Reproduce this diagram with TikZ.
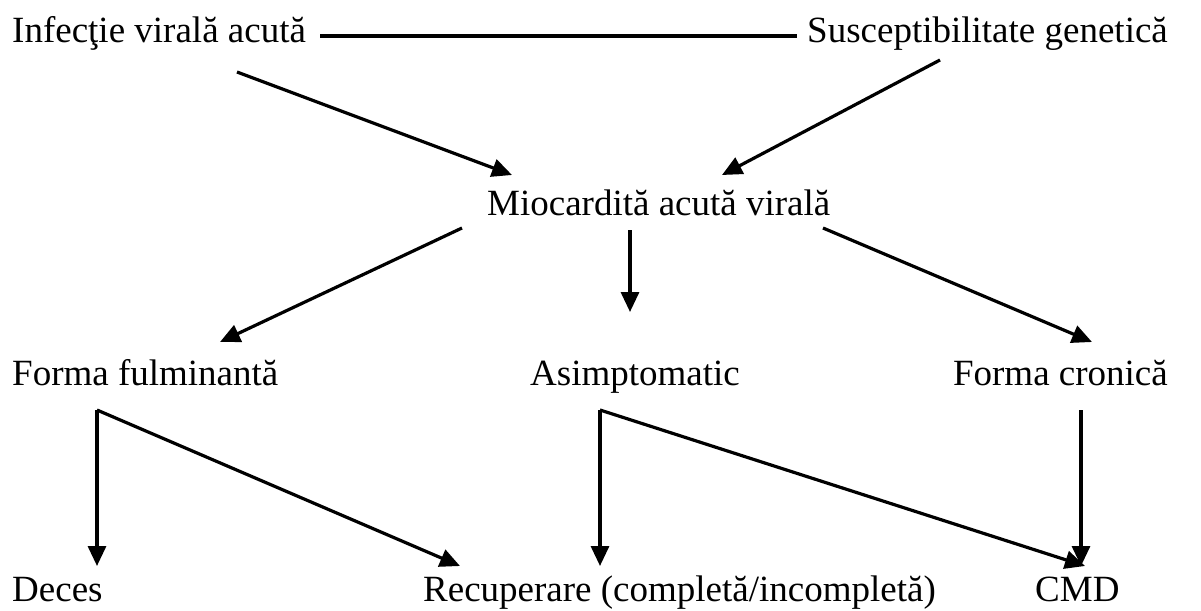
\documentclass[tikz,border=0pt]{standalone}
\usepackage{fontspec}
\setmainfont{Liberation Serif}
\usetikzlibrary{arrows.meta}
\begin{document}
\begin{tikzpicture}[x=1pt,y=-1pt,
  lbl/.style={inner sep=0pt, font=\fontsize{37}{42}\selectfont},
  arr/.style={line width=3.2pt, -{Triangle[length=20pt,width=18pt]}},
  ln/.style={line width=3.2pt}]
\useasboundingbox[fill=white] (0,0) rectangle (1201,610);
% texts
\node[lbl, anchor=base west] (inf) at (12,42) {Infecţie virală acută};
\node[lbl, anchor=base east] (sus) at (1168,42) {Susceptibilitate genetică};
\node[lbl, anchor=base west] (mio) at (487,215) {Miocardită acută virală};
\node[lbl, anchor=base west] (ff) at (12,385) {Forma fulminantă};
\node[lbl, anchor=base west] (asi) at (530,385) {Asimptomatic};
\node[lbl, anchor=base east] (fc) at (1168,385) {Forma cronică};
\node[lbl, anchor=base west] (dec) at (12,601) {Deces};
\node[lbl, anchor=base west] (rec) at (423,601) {Recuperare (completă/incompletă)};
\node[lbl, anchor=base west] (cmd) at (1035,601) {CMD};
% connector end points
\coordinate (l1) at (320,36);
\coordinate (l2) at (797,36);
\coordinate (a1s) at (237,72);   \coordinate (a1e) at (512,175);
\coordinate (a2s) at (940,60);   \coordinate (a2e) at (722,175);
\coordinate (m0) at (630,230);   \coordinate (m0e) at (630,312);
\coordinate (m1) at (462,228);   \coordinate (m1e) at (220,342);
\coordinate (m2) at (823,228);   \coordinate (m2e) at (1092,342);
\coordinate (ffo) at (97,410);   \coordinate (dece) at (97,566);
\coordinate (rec1) at (460,566);
\coordinate (aso) at (600,410);  \coordinate (rec2) at (600,566);
\coordinate (cmd1) at (1085,566);
\coordinate (fco) at (1081,410); \coordinate (cmd2) at (1081,566);
% connectors
\draw[ln] (l1) -- (l2);
\draw[arr] (a1s) -- (a1e);
\draw[arr] (a2s) -- (a2e);
\draw[arr] (m0) -- (m0e);
\draw[arr] (m1) -- (m1e);
\draw[arr] (m2) -- (m2e);
\draw[arr] (ffo) -- (dece);
\draw[arr] (ffo) -- (rec1);
\draw[arr] (aso) -- (rec2);
\draw[arr] (aso) -- (cmd1);
\draw[arr] (fco) -- (cmd2);
\end{tikzpicture}
\end{document}
